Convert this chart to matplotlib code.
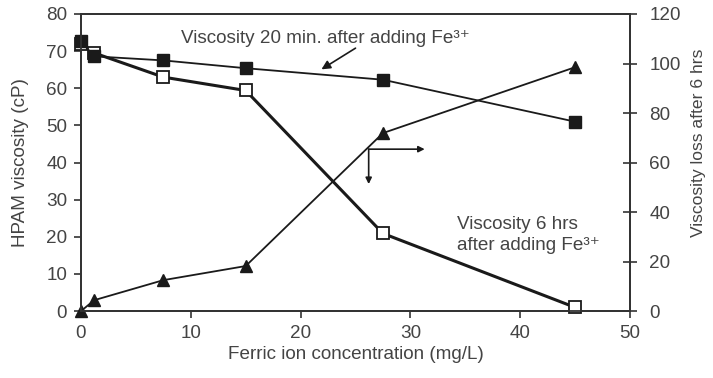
import numpy as np
import matplotlib as mpl
mpl.use('Agg')
import matplotlib.pyplot as plt

plt.rcParams['font.family'] = ['Liberation Sans', 'DejaVu Sans']
plt.rcParams['font.size'] = 13.6

TEXT_COLOR = '#444444'
LINE_COLOR = '#1a1a1a'

# ferric ion dose (mg/L)
fe_conc = [0, 1.2, 7.5, 15, 27.5, 45]
# HPAM viscosity (cP) 20 min and 6 hrs after Fe3+ addition
visc_20min = [72.6, 68.6, 67.5, 65.4, 62.3, 51.0]
visc_6hrs = [72.0, 69.5, 63.0, 59.4, 20.9, 1.0]
# viscosity loss after 6 hrs (right axis)
visc_loss = [0, 4.4, 12.5, 18.2, 71.9, 98.5]

x_ticks = [0, 10, 20, 30, 40, 50]
left_ticks = [0, 10, 20, 30, 40, 50, 60, 70, 80]
right_ticks = [0, 20, 40, 60, 80, 100, 120]

fig, ax = plt.subplots(figsize=(7.13, 3.78), dpi=100)
fig.subplots_adjust(left=0.1136, right=0.8836, top=0.963, bottom=0.177)

ax.plot(fe_conc, visc_6hrs, color=LINE_COLOR, lw=2.2, marker='s', ms=8,
        mfc='white', mec=LINE_COLOR, mew=1.3, zorder=3, clip_on=False)
ax.plot(fe_conc, visc_20min, color=LINE_COLOR, lw=1.3, marker='s', ms=8,
        mfc=LINE_COLOR, mec=LINE_COLOR, zorder=4, clip_on=False)

ax2 = ax.twinx()
ax2.plot(fe_conc, visc_loss, color=LINE_COLOR, lw=1.3, marker='^', ms=8,
         mfc=LINE_COLOR, mec=LINE_COLOR, clip_on=False)

ax.set_xlim(0, 50)
ax.set_ylim(0, 80)
ax2.set_ylim(0, 120)
ax.set_xticks(x_ticks)
ax.set_yticks(left_ticks)
ax2.set_yticks(right_ticks)

for a in (ax, ax2):
    for s in a.spines.values():
        s.set_color('#333333')
        s.set_linewidth(1.3)
ax.tick_params(axis='both', direction='out', length=5, width=1.2,
               colors='#333333', labelcolor=TEXT_COLOR, pad=5)
ax2.tick_params(axis='y', direction='inout', length=10, width=1.2,
                colors='#333333', labelcolor=TEXT_COLOR, pad=9)

ax.set_xlabel('Ferric ion concentration (mg/L)', color=TEXT_COLOR, labelpad=3)
ax.set_ylabel('HPAM viscosity (cP)', color=TEXT_COLOR, labelpad=12)
ax2.set_ylabel('Viscosity loss after 6 hrs', color=TEXT_COLOR, fontsize=12.6,
               rotation=90, va='center')
ax2.yaxis.set_label_coords(1.125, 0.566)

arrow_kw = dict(color=LINE_COLOR, lw=1.2, shrinkA=0, shrinkB=0)

# series labels
ax.text(9.1, 73.5, 'Viscosity 20 min. after adding Fe³⁺',
        color=TEXT_COLOR, va='center', ha='left')
ax.annotate('', xy=(21.9, 65.1), xytext=(25.0, 70.8),
            arrowprops=dict(arrowstyle='-|>', mutation_scale=13, **arrow_kw))
ax.text(34.2, 20.5, 'Viscosity 6 hrs\nafter adding Fe³⁺',
        color=TEXT_COLOR, va='center', ha='left', linespacing=1.25)

# axis pointers: left series -> down, right series -> right
ax.annotate('', xy=(31.3, 43.6), xytext=(26.2, 43.6),
            arrowprops=dict(arrowstyle='-|>', mutation_scale=9, **arrow_kw))
ax.annotate('', xy=(26.2, 34.2), xytext=(26.2, 43.6),
            arrowprops=dict(arrowstyle='-|>', mutation_scale=9, **arrow_kw))

fig.savefig('out.png', dpi=100)
